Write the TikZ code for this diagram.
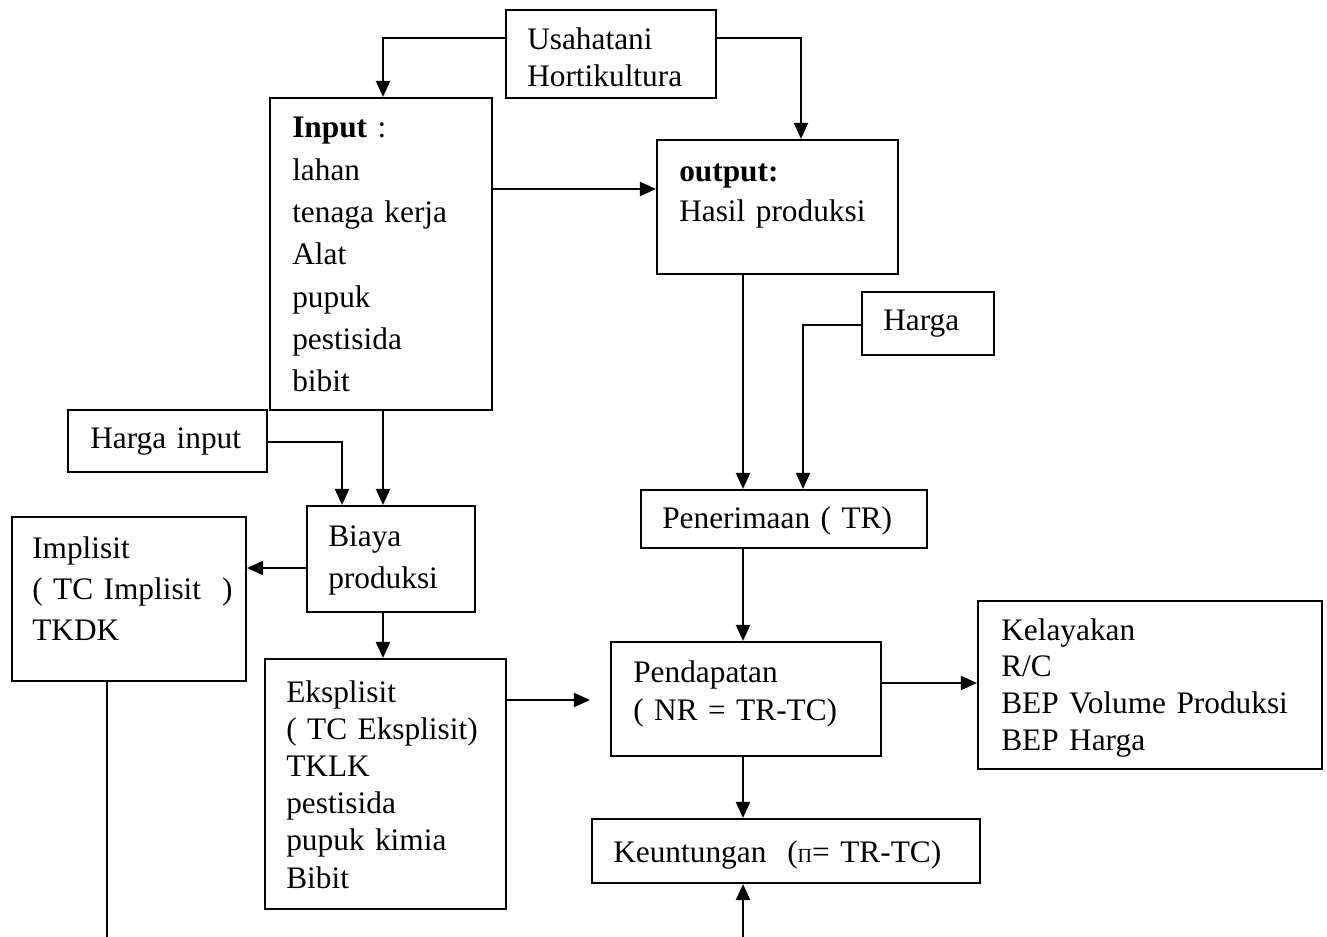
\documentclass[tikz,border=0pt]{standalone}
\usepackage{fontspec}
\setmainfont{Liberation Serif}
\usetikzlibrary{arrows.meta}

\newcommand{\huruf}[1]{\fontsize{23.5}{#1}\selectfont}

\tikzset{
  kotak/.style={draw, line width=1.6pt, inner sep=0pt},
  teks/.style={anchor=base west, align=left, inner sep=0pt, text width=300pt},
  panah/.style={line width=1.6pt, -{Triangle[length=12pt,width=10.5pt]}},
  garis/.style={line width=1.6pt}
}

\begin{document}
\begin{tikzpicture}[x=0.75pt,y=0.75pt,yscale=-1,xscale=1,font=\huruf{28}]
\useasboundingbox (0,0) rectangle (1327,937);
% Boxes
\node [kotak, minimum width=157.5pt, minimum height=66pt] (usaha) at (611,54) {};
\node [kotak, minimum width=166.5pt, minimum height=234pt] (inp) at (381,254) {};
\node [kotak, minimum width=180.75pt, minimum height=100.5pt] (outp) at (777.5,207) {};
\node [kotak, minimum width=99pt, minimum height=47.25pt] (harga) at (928,323.5) {};
\node [kotak, minimum width=149.25pt, minimum height=46.5pt] (hinp) at (167.5,441) {};
\node [kotak, minimum width=126pt, minimum height=79.5pt] (biaya) at (391,559) {};
\node [kotak, minimum width=175.5pt, minimum height=123pt] (impl) at (129,599) {};
\node [kotak, minimum width=214.5pt, minimum height=43.5pt] (terima) at (784,519) {};
\node [kotak, minimum width=180.75pt, minimum height=187.5pt] (eksp) at (385.5,784) {};
\node [kotak, minimum width=202.5pt, minimum height=85.5pt] (dapat) at (746,699) {};
\node [kotak, minimum width=258pt, minimum height=126pt] (layak) at (1150,685) {};
\node [kotak, minimum width=291pt, minimum height=48pt] (untung) at (786,851) {};
% Text Node
\node [teks, font=\huruf{27.75}] (usaha-t) at (527,50) {Usahatani\\Hortikultura};
\node [teks, font=\huruf{31.7}] (inp-t) at (292,138) {\textbf{Input} :\\lahan\\tenaga kerja\\Alat\\pupuk\\pestisida\\bibit};
\node [teks, font=\huruf{30}] (outp-t) at (679,182) {\textbf{output:}\\Hasil produksi};
\node [teks] (harga-t) at (883,331) {Harga};
\node [teks] (hinp-t) at (90,449) {Harga input};
\node [teks, font=\huruf{31.5}] (biaya-t) at (328,546) {Biaya\\produksi};
\node [teks, font=\huruf{31}] (impl-t) at (32,558) {Implisit\\( TC Implisit~~)\\TKDK};
\node [teks] (terima-t) at (662,528) {Penerimaan ( TR)};
\node [teks, font=\huruf{27.9}] (eksp-t) at (286,702) {Eksplisit\\( TC Eksplisit)\\TKLK\\pestisida\\pupuk kimia\\Bibit};
\node [teks, font=\huruf{28.5}] (dapat-t) at (633,682) {Pendapatan\\( NR = TR-TC)};
\node [teks, font=\huruf{27.5}] (layak-t) at (1001,640) {Kelayakan\\R/C\\BEP Volume Produksi\\BEP Harga};
\node [teks] (untung-t) at (613,862) {Keuntungan~~({\fontsize{15}{15}\selectfont Π}= TR-TC)};
% Bends
\coordinate (b1) at (383,38);
\coordinate (b2) at (801,38);
\coordinate (b3) at (803,325);
\coordinate (b4) at (342,442);
\coordinate (b5) at (107,937);
\coordinate (b6) at (743,937);
% Connectors
\draw [panah] (usaha.west |- b1) -- (b1) -- (inp.north -| b1);
\draw [panah] (usaha.east |- b2) -- (b2) -- (outp.north -| b2);
\draw [panah] (inp.east |- 0,189) -- (outp.west |- 0,189);
\draw [panah] (outp.south -| b6) -- (terima.north -| b6);
\draw [panah] (harga.west |- b3) -- (b3) -- (terima.north -| b3);
\draw [panah] (inp.south -| b1) -- (biaya.north -| b1);
\draw [panah] (hinp.east |- b4) -- (b4) -- (biaya.north -| b4);
\draw [panah] (biaya.west |- 0,568) -- (impl.east |- 0,568);
\draw [panah] (biaya.south -| b1) -- (eksp.north -| b1);
\draw [panah, shorten >=15pt] (eksp.east |- 0,700) -- (dapat.west |- 0,700);
\draw [panah] (terima.south -| b6) -- (dapat.north -| b6);
\draw [panah] (dapat.east |- 0,683) -- (layak.west |- 0,683);
\draw [panah] (dapat.south -| b6) -- (untung.north -| b6);
\draw [garis] (impl.south -| b5) -- (b5);
\draw [panah] (b6) -- (untung.south -| b6);
\end{tikzpicture}
\end{document}
